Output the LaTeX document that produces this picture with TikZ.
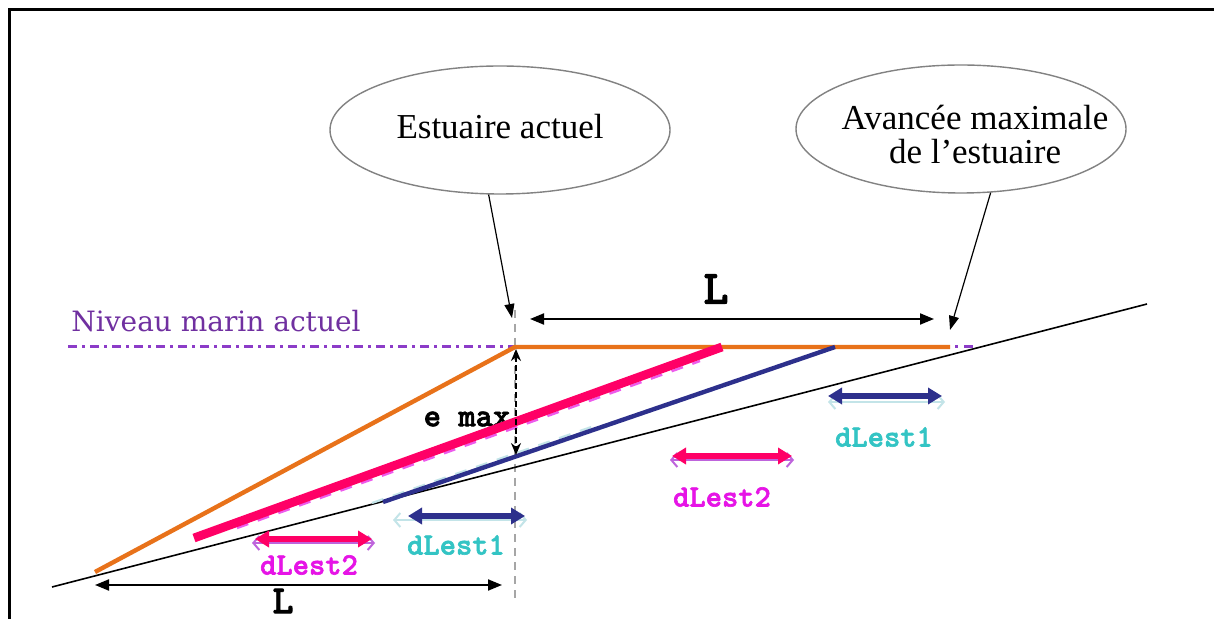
\documentclass[tikz,border=0pt]{standalone}
\usepackage{fontspec}
\setmainfont{Liberation Serif}
\newfontfamily\wideserif{DejaVu Serif}
\newfontfamily\slabmono{lmmonolt10-bold.otf}[FakeBold=2]
\usetikzlibrary{arrows.meta,shapes.geometric}
\definecolor{orangec}{RGB}{232,114,26}
\definecolor{pinkc}{RGB}{255,0,102}
\definecolor{navyc}{RGB}{45,48,140}
\definecolor{purplec}{RGB}{112,48,160}
\definecolor{dashpurple}{RGB}{140,60,200}
\definecolor{tealc}{RGB}{51,196,196}
\definecolor{magc}{RGB}{230,20,230}
\definecolor{lcyan}{RGB}{195,228,232}
\definecolor{lviolet}{RGB}{190,100,220}
\definecolor{ellgrey}{RGB}{130,130,130}
\tikzset{
  bubble/.style={ellipse,draw=ellgrey,line width=0.7pt,inner sep=0pt},
  btext/.style={inner sep=0pt,align=center,font=\fontsize{17.5pt}{17pt}\selectfont},
  ptr/.style={line width=0.6pt,-{Triangle[length=7pt,width=5pt]}},
  lenarrow/.style={line width=1pt,{Triangle[length=7pt,width=5.5pt]}-{Triangle[length=7pt,width=5.5pt]}},
  darr/.style={line width=2.6pt,{Triangle[length=7pt,width=8pt]}-{Triangle[length=7pt,width=8pt]}},
  shadarr/.style={line width=1pt,{Straight Barb[length=3pt,width=7pt]}-{Straight Barb[length=3pt,width=7pt]}},
  lbl/.style={inner sep=0pt,font=\slabmono\fontsize{15.5pt}{16pt}\selectfont},
  biglbl/.style={inner sep=0pt,font=\slabmono\fontsize{20pt}{21pt}\selectfont}
}
\begin{document}
\begin{tikzpicture}[x=0.5pt,y=-0.5pt]
\useasboundingbox (0,0) rectangle (1214,619);
\fill[white] (0,0) rectangle (1214,619);
% frame
\draw[line width=1.8pt] (9.5,619) -- (9.5,9.5) -- (1214,9.5);

% ellipses
\node[bubble,minimum width=170pt,minimum height=64pt] (e1) at (500,130) {};
\node[btext] (e1t) at (500,127) {Estuaire actuel};
\node[bubble,minimum width=165pt,minimum height=64pt] (e2) at (961,129) {};
\node[btext] (e2t) at (975,135) {Avancée maximale\\de l’estuaire};

% points
\coordinate (sA) at (52,587);
\coordinate (sB) at (1147,304);
\coordinate (dA) at (68,347);
\coordinate (dB) at (515,347);
\coordinate (dC) at (955,347);
\coordinate (dD) at (975,347);
\coordinate (gA) at (515,310);
\coordinate (gB) at (515,602);
\coordinate (oA) at (95,572);
\coordinate (oB) at (515,347);
\coordinate (oC) at (950,347);
\coordinate (pA) at (194,538);
\coordinate (pB) at (722,347);
\coordinate (mA) at (237,528);
\coordinate (mB) at (700,361);
\coordinate (bA) at (383,502);
\coordinate (bB) at (835,347);
\coordinate (cA) at (372,503);
\coordinate (cB) at (600,424);
\coordinate (t1) at (512,318);
\coordinate (t2) at (950,330);
\coordinate (LtA) at (530,319);
\coordinate (LtB) at (934,319);
\coordinate (LbA) at (95,585);
\coordinate (LbB) at (502,585);
\coordinate (eA) at (516,349);
\coordinate (eB) at (516,455);

% level line
\draw[dashpurple,line width=1.5pt,dash pattern=on 4.5pt off 2.5pt on 1.5pt off 2.5pt] (dA) -- (dB);
\draw[dashpurple,line width=1.5pt,dash pattern=on 1.5pt off 3pt on 4.5pt off 2pt] (dC) -- (dD);
\node[inner sep=0pt,text=purplec,font=\wideserif\fontsize{14pt}{15pt}\selectfont] (niv) at (216,321) {Niveau marin actuel};

% grey vertical
\draw[black!35,line width=0.8pt,dash pattern=on 4pt off 3pt] (gA) -- (gB);

% slope line
\draw[line width=0.8pt] (sA) -- (sB);

% orange profile
\draw[orangec,line width=2.2pt] (oA) -- (oB) -- (oC);

% e max label
\node[inner sep=0pt,font=\slabmono\fontsize{16.5pt}{17pt}\selectfont] (emax) at (467,419) {e max};

% pink profile with magenta dashed under
\draw[magc!70,line width=1.2pt,dash pattern=on 6pt off 5pt] (mA) -- (mB);
\draw[pinkc,line width=4.4pt] (pA) -- (pB);

% blue profile with light shadow
\draw[lcyan,line width=1.1pt,dash pattern=on 6pt off 5pt] (cA) -- (cB);
\draw[navyc,line width=2.2pt] (bA) -- (bB);

% e max arrow
\draw[line width=0.8pt,dash pattern=on 3pt off 1.5pt,{Stealth[length=6pt,width=5pt]}-{Stealth[length=6pt,width=5pt]}] (eA) -- (eB);

% pointers
\draw[ptr] (e1.260) -- (t1);
\draw[ptr] (e2.295) -- (t2);

% L arrows
\draw[lenarrow] (LtA) -- (LtB);
\node[inner sep=0pt,font=\slabmono\fontsize{24pt}{25pt}\selectfont] (Ltop) at (716,289) {L};
\draw[lenarrow] (LbA) -- (LbB);
\node[biglbl] (Lbot) at (283,601) {L};

% dLest arrows
\coordinate (r1a) at (828,402); \coordinate (r1b) at (945,402);
\coordinate (r1c) at (828,396); \coordinate (r1d) at (942,396);
\draw[shadarr,lcyan] (r1a) -- (r1b);
\draw[darr,navyc] (r1c) -- (r1d);
\node[lbl,text=tealc] (d1r) at (884,437) {dLest1};

\coordinate (m2a) at (670,460); \coordinate (m2b) at (794,460);
\coordinate (m2c) at (672,456); \coordinate (m2d) at (792,456);
\draw[shadarr,lviolet] (m2a) -- (m2b);
\draw[darr,pinkc] (m2c) -- (m2d);
\node[lbl,text=magc] (d2m) at (722,497) {dLest2};

\coordinate (l1a) at (393,520); \coordinate (l1b) at (527,520);
\coordinate (l1c) at (408,516); \coordinate (l1d) at (525,516);
\draw[shadarr,lcyan] (l1a) -- (l1b);
\draw[darr,navyc] (l1c) -- (l1d);
\node[lbl,text=tealc] (d1l) at (456,545) {dLest1};

\coordinate (l2a) at (252,543); \coordinate (l2b) at (375,543);
\coordinate (l2c) at (255,539); \coordinate (l2d) at (372,539);
\draw[shadarr,lviolet] (l2a) -- (l2b);
\draw[darr,pinkc] (l2c) -- (l2d);
\node[lbl,text=magc] (d2l) at (309,565) {dLest2};
\end{tikzpicture}
\end{document}
